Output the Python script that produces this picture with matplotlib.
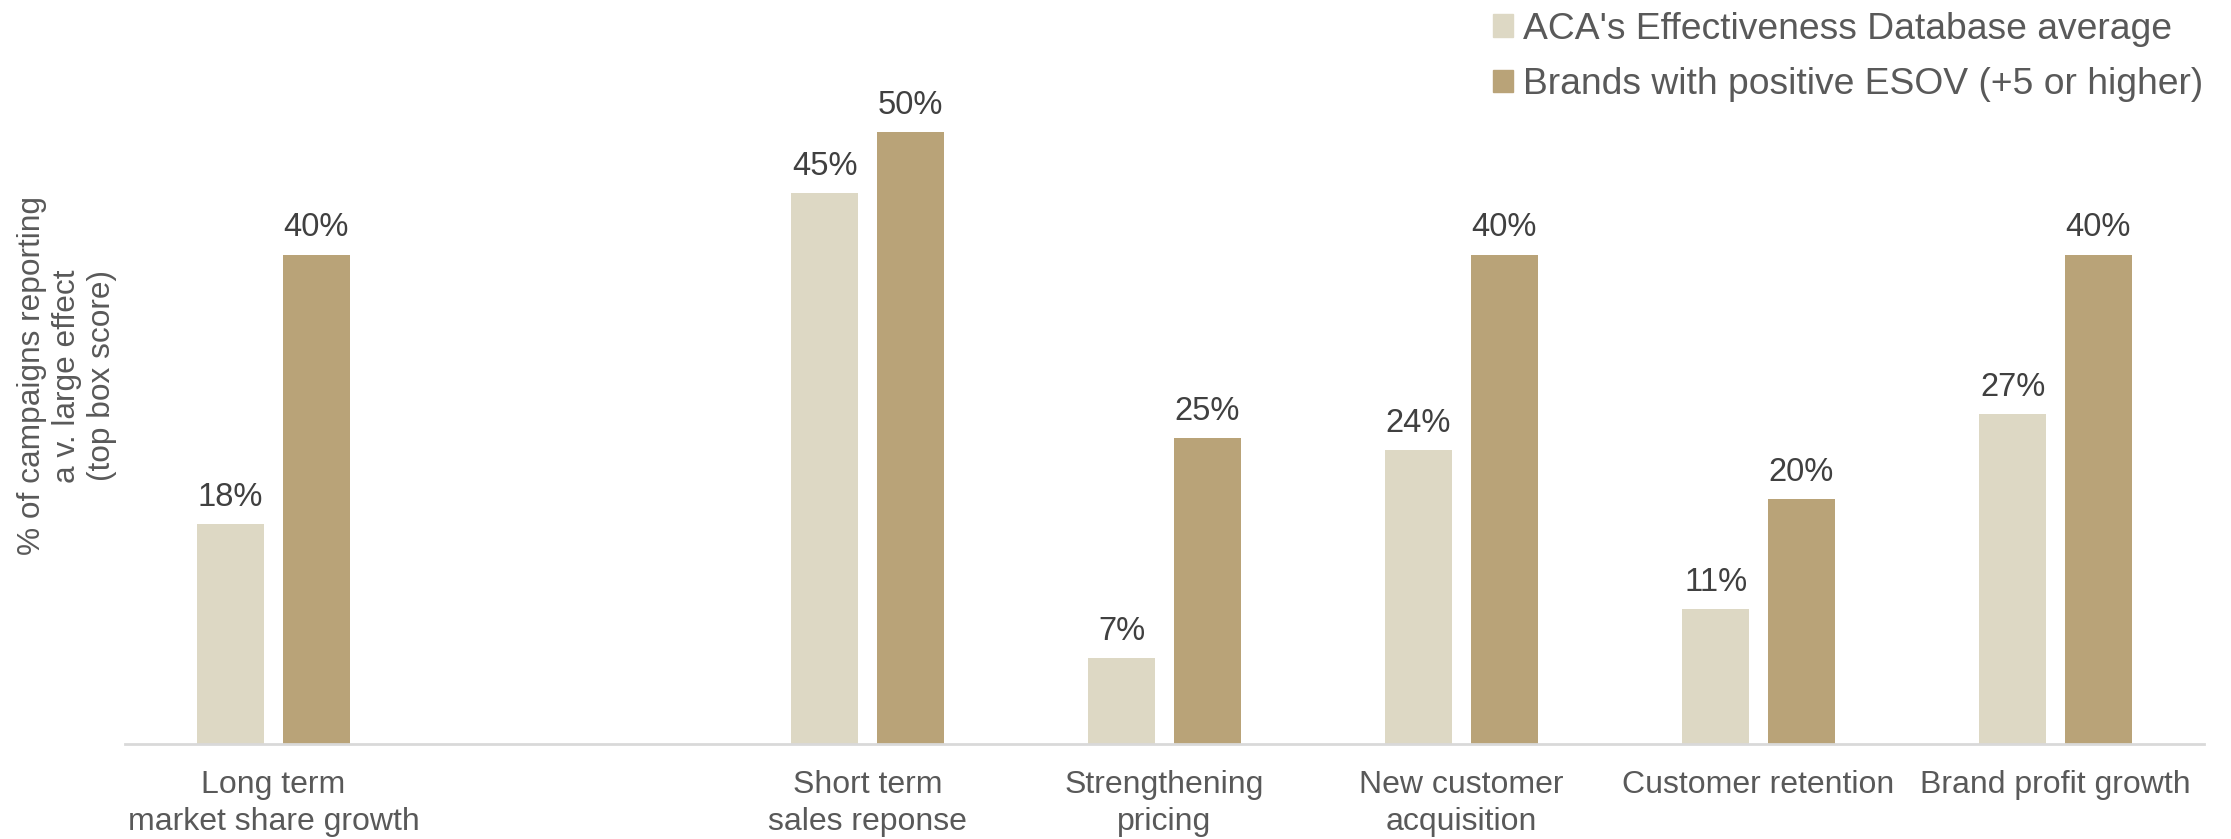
import matplotlib.pyplot as plt
from matplotlib.patches import Patch

# Campaign effects, % reporting a very large effect
categories = ['Long term\nmarket share growth', '', 'Short term\nsales reponse',
              'Strengthening\npricing', 'New customer\nacquisition',
              'Customer retention', 'Brand profit growth']
database_avg = [18, None, 45, 7, 24, 11, 27]
positive_esov = [40, None, 50, 25, 40, 20, 40]
series_names = ["ACA's Effectiveness Database average",
                'Brands with positive ESOV (+5 or higher)']

light = '#DDD8C4'
dark = '#B9A378'
text_grey = '#595959'

plt.rcParams['font.family'] = ['Liberation Sans', 'DejaVu Sans']

fig = plt.figure(figsize=(22.31, 8.39), dpi=100)
ax = fig.add_axes([0.056, 0.1132, 0.9319, 0.8022])

width = 0.225
offset = 0.1445

# only draw slots that hold data (slot 1 is left empty as a spacer)
idx = [i for i, v in enumerate(database_avg) if v is not None]
b1 = ax.bar([i - offset for i in idx], [database_avg[i] for i in idx],
            width=width, color=light)
b2 = ax.bar([i + offset for i in idx], [positive_esov[i] for i in idx],
            width=width, color=dark)

for bars in (b1, b2):
    ax.bar_label(bars, fmt='%g%%', padding=8, fontsize=23.5, color='#404040')

ax.set_xlim(-0.5, len(categories) - 0.5)
ax.set_ylim(0, 55)
ax.set_xticks(range(len(categories)))
ax.set_xticklabels(categories, fontsize=23, color=text_grey, linespacing=1.27)
ax.tick_params(axis='x', length=0, pad=19)
ax.set_yticks([])

for side in ('top', 'right', 'left'):
    ax.spines[side].set_visible(False)
ax.spines['bottom'].set_color('#D9D9D9')
ax.spines['bottom'].set_linewidth(2)

fig.text(0.030, 0.552, '% of campaigns reporting\na v. large effect\n(top box score)',
         rotation=90, ha='center', va='center', fontsize=22.8, color=text_grey,
         linespacing=1.2)

handles = [Patch(color=light), Patch(color=dark)]
fig.legend(handles, series_names, loc='upper right', bbox_to_anchor=(0.994, 1.004),
           frameon=False, fontsize=26.8, labelcolor=text_grey,
           handlelength=0.55, handleheight=0.55, handletextpad=0.25,
           labelspacing=0.55, borderaxespad=0)

fig.savefig('out.png', dpi=100)
